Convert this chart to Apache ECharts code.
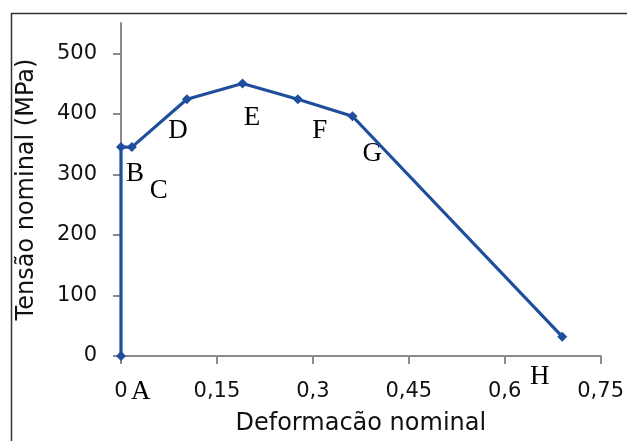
<!DOCTYPE html>
<html>
<head>
<meta charset="utf-8">
<script src="https://cdn.jsdelivr.net/npm/echarts@6/dist/echarts.min.js"></script>
<style>
html,body{margin:0;padding:0;background:#fff;}
#chart{width:627px;height:441px;}
</style>
</head>
<body>
<div id="chart"></div>
<script>
// Data (strain, stress MPa)
const strain = [0, 0, 0.017, 0.103, 0.19, 0.2765, 0.362, 0.69];
const stress = [0, 345, 345, 424, 450, 424, 396, 32];
// Annotation letters and their anchor positions (data units)
const letters = ['A', 'B', 'C', 'D', 'E', 'F', 'G', 'H'];
const letterX = [0.031, 0.022, 0.059, 0.089, 0.205, 0.311, 0.393, 0.655];
const letterY = [-60, 300, 272, 372, 394, 372, 334, -34];
const yTicks = [0, 100, 200, 300, 400, 500];
const xTitle = 'Deformacão nominal';
const yTitle = 'Tensão nominal (MPa)';

const chart = echarts.init(document.getElementById('chart'), null, {renderer: 'canvas'});
const axisColor = '#8a8a8a';
const textColor = '#111111';
const font = 'DejaVu Sans';

chart.setOption({
  animation: false,
  backgroundColor: '#fff',
  grid: {left: 121, right: 23, top: 23, bottom: 79, containLabel: false},
  xAxis: {
    type: 'value', min: 0, max: 0.75, interval: 0.15,
    splitLine: {show: false},
    axisLine: {show: true, onZero: false, lineStyle: {color: axisColor, width: 2}},
    axisTick: {show: true, inside: false, length: 8, lineStyle: {color: axisColor, width: 2}},
    axisLabel: {
      margin: 25, color: textColor, fontFamily: font, fontSize: 21,
      formatter: v => String(+v.toFixed(2)).replace('.', ',')
    },
    name: xTitle, nameLocation: 'middle', nameGap: 56,
    nameTextStyle: {color: textColor, fontFamily: font, fontSize: 24}
  },
  yAxis: {
    type: 'value', min: 0, max: 550, interval: 100,
    splitLine: {show: false},
    axisLine: {show: true, onZero: false, lineStyle: {color: axisColor, width: 2}},
    axisTick: {show: true, inside: false, length: 8, customValues: yTicks, lineStyle: {color: axisColor, width: 2}},
    axisLabel: {
      margin: 24, color: textColor, fontFamily: font, fontSize: 21,
      customValues: yTicks
    },
    name: yTitle, nameLocation: 'middle', nameGap: 82, nameRotate: 90,
    nameTextStyle: {color: textColor, fontFamily: font, fontSize: 24}
  },
  series: [
    {
      type: 'line',
      data: strain.map((x, i) => [x, stress[i]]),
      symbol: 'diamond', symbolSize: 10, showSymbol: true,
      lineStyle: {color: '#1f4e9c', width: 3.2},
      itemStyle: {color: '#1f4e9c'},
      clip: false
    },
    {
      type: 'scatter',
      data: letters.map((l, i) => ({value: [letterX[i], letterY[i]], name: l})),
      symbolSize: 0,
      clip: false,
      silent: true,
      itemStyle: {opacity: 1},
      label: {
        show: true, position: 'inside', formatter: p => p.name, opacity: 1,
        color: '#000000', fontFamily: 'Liberation Serif', fontSize: 27
      }
    }
  ],
  graphic: [{
    type: 'rect', left: 9, top: 11, silent: true,
    shape: {width: 700, height: 500},
    style: {fill: 'none', stroke: '#333333', lineWidth: 1.5}
  }]
});
</script>
</body>
</html>
